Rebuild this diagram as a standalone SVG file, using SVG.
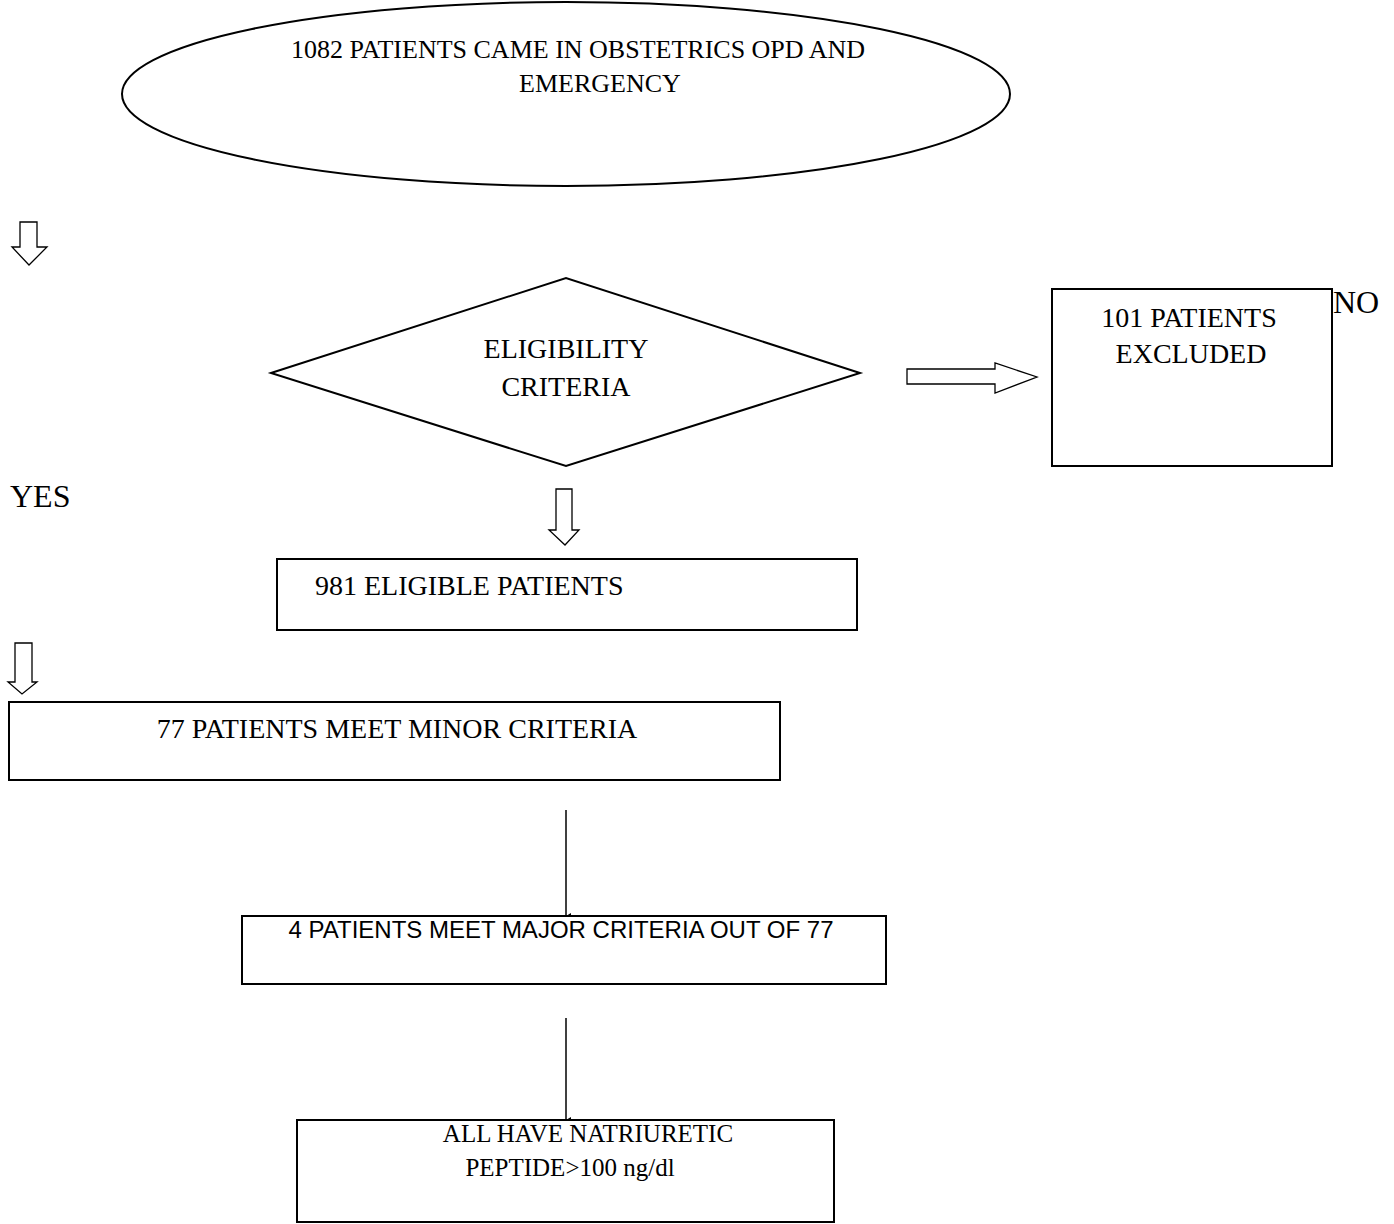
<svg xmlns="http://www.w3.org/2000/svg" width="1394" height="1224" viewBox="0 0 1394 1224">
<style>
.s{fill:#fff;stroke:#000;stroke-width:2}
.t{font-family:"Liberation Serif","Times New Roman",serif;fill:#000}
.a{font-family:"Liberation Sans",Arial,sans-serif;fill:#000}
.c{stroke:#000;stroke-width:1.5;fill:none}
.h{fill:#fff;stroke:#000;stroke-width:1.3}
</style>
<defs>
<marker id="ah" markerWidth="6" markerHeight="6" refX="3" refY="5" orient="auto" markerUnits="userSpaceOnUse"><path d="M0,0 L3,5 L6,0 Z" fill="#000"/></marker>
</defs>
<rect width="1394" height="1224" fill="#fff"/>
<g id="connectors">
<path class="h" d="M20,222 L37,222 L37,247 L47,247 L29,265 L12,247 L20,247 Z"/>
<path class="h" d="M907,369 L995,369 L995,363 L1037,377 L995,393 L995,384 L907,384 Z"/>
<path class="h" d="M556,489 L572,489 L572,530 L579,530 L565,545 L549,530 L556,530 Z"/>
<path class="h" d="M15,643 L32,643 L32,682 L37,682 L22,694 L8,682 L15,682 Z"/>
<line class="c" x1="566" y1="810" x2="566" y2="916" marker-end="url(#ah)"/>
<line class="c" x1="566" y1="1018" x2="566" y2="1120" marker-end="url(#ah)"/>
</g>
<g id="start">
<ellipse class="s" cx="566" cy="94" rx="444" ry="92"/>
<text class="t" font-size="26" x="578" y="58" text-anchor="middle">1082 PATIENTS CAME IN OBSTETRICS OPD AND</text>
<text class="t" font-size="26" x="600" y="92" text-anchor="middle">EMERGENCY</text>
</g>
<g id="eligibility">
<path class="s" d="M271,373 L566,278 L860,373 L566,466 Z"/>
<text class="t" font-size="28" x="566" y="358" text-anchor="middle">ELIGIBILITY</text>
<text class="t" font-size="28" x="566" y="396" text-anchor="middle">CRITERIA</text>
</g>
<g id="excluded">
<rect class="s" x="1052" y="289" width="280" height="177"/>
<text class="t" font-size="28" x="1189" y="327" text-anchor="middle">101 PATIENTS</text>
<text class="t" font-size="28" x="1191" y="363" text-anchor="middle">EXCLUDED</text>
</g>
<g id="no-label"><text class="t" font-size="32" x="1333" y="313">NO</text></g>
<g id="yes-label"><text class="t" font-size="32" x="10" y="507">YES</text></g>
<g id="eligible">
<rect class="s" x="277" y="559" width="580" height="71"/>
<text class="t" font-size="28" x="315" y="595">981 ELIGIBLE PATIENTS</text>
</g>
<g id="minor">
<rect class="s" x="9" y="702" width="771" height="78"/>
<text class="t" font-size="28" x="397" y="738" text-anchor="middle">77 PATIENTS MEET MINOR CRITERIA</text>
</g>
<g id="major">
<rect class="s" x="242" y="916" width="644" height="68"/>
<text class="a" font-size="24" x="561" y="938" text-anchor="middle">4 PATIENTS MEET MAJOR CRITERIA OUT OF 77</text>
</g>
<g id="natriuretic">
<rect class="s" x="297" y="1120" width="537" height="102"/>
<text class="t" font-size="25" x="588" y="1142" text-anchor="middle">ALL HAVE NATRIURETIC</text>
<text class="t" font-size="25" x="570" y="1176" text-anchor="middle">PEPTIDE&gt;100 ng/dl</text>
</g>
</svg>
